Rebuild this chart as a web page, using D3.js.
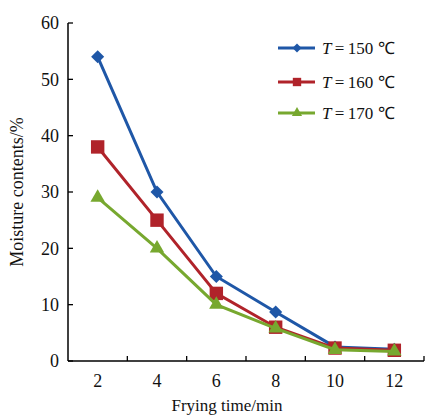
<!DOCTYPE html>
<html>
<head>
<meta charset="utf-8">
<script src="https://cdn.jsdelivr.net/npm/d3@7"></script>
<style>
  html, body { margin: 0; padding: 0; background: #fff; }
  svg { display: block; }
  text { font-family: "Liberation Serif", "Times New Roman", serif; fill: #111; }
</style>
</head>
<body>
<svg id="chart" width="425" height="419"></svg>
<script>
// Frying time (min) on the x axis
const times = ["2", "4", "6", "8", "10", "12"];
// Moisture content (%) for each frying temperature
const moisture150 = [54, 30, 15, 8.7, 2.5, 2.1];
const moisture160 = [38, 25, 12, 6, 2.3, 1.9];
const moisture170 = [29, 20, 10, 5.8, 2.0, 1.7];
const seriesNames = ["150", "160", "170"];
const yTicks = [0, 10, 20, 30, 40, 50, 60];

const series = [
  { name: seriesNames[0], values: moisture150, color: "#1f57a7", symbol: d3.symbolSquare, rotate: 45, size: 85, legendSize: 40 },
  { name: seriesNames[1], values: moisture160, color: "#b0232a", symbol: d3.symbolSquare, rotate: 0, size: 180, legendSize: 70 },
  { name: seriesNames[2], values: moisture170, color: "#77a82f", symbol: d3.symbolTriangle, rotate: 0, size: 90, legendSize: 45 }
];

const svg = d3.select("#chart");
const margin = { left: 68, right: 424, top: 23, bottom: 361 };

const x = d3.scaleBand().domain(times).range([margin.left, margin.right]);
const y = d3.scaleLinear().domain([0, 60]).range([margin.bottom, margin.top]);

// Axes with inward ticks
const xAxis = svg.append("g").attr("transform", `translate(0,${margin.bottom})`);
xAxis.append("line")
  .attr("x1", margin.left).attr("x2", margin.right)
  .attr("stroke", "#000").attr("stroke-width", 1.5);
const bounds = times.map(t => x(t)).concat([margin.right]).slice(1);
xAxis.selectAll(".xt").data(bounds).enter().append("line")
  .attr("x1", d => d).attr("x2", d => d)
  .attr("y1", 0).attr("y2", -5)
  .attr("stroke", "#000").attr("stroke-width", 1.3);
xAxis.selectAll(".xl").data(times).enter().append("text")
  .attr("x", d => x(d) + x.bandwidth() / 2)
  .attr("y", 26)
  .attr("text-anchor", "middle")
  .attr("font-size", 18)
  .text(d => d);

const yAxis = svg.append("g").attr("transform", `translate(${margin.left},0)`);
yAxis.append("line")
  .attr("y1", y(0)).attr("y2", y(60))
  .attr("stroke", "#000").attr("stroke-width", 1.5);
yAxis.selectAll(".yt").data(yTicks).enter().append("line")
  .attr("x1", 0).attr("x2", 5)
  .attr("y1", d => y(d)).attr("y2", d => y(d))
  .attr("stroke", "#000").attr("stroke-width", 1.3);
yAxis.selectAll(".yl").data(yTicks).enter().append("text")
  .attr("x", -9)
  .attr("y", d => y(d))
  .attr("dy", "0.35em")
  .attr("text-anchor", "end")
  .attr("font-size", 18)
  .text(d => d);

// Axis titles
svg.append("text")
  .attr("x", 227).attr("y", 411)
  .attr("text-anchor", "middle")
  .attr("font-size", 17)
  .text("Frying time/min");
svg.append("text")
  .attr("transform", "translate(23,192) rotate(-90)")
  .attr("text-anchor", "middle")
  .attr("font-size", 18)
  .text("Moisture contents/%");

// Lines and markers, drawn 150 first so 170 sits on top
const cx = (i) => x(times[i]) + x.bandwidth() / 2;
const line = d3.line().x((d, i) => cx(i)).y(d => y(d));

series.forEach(s => {
  const g = svg.append("g");
  g.append("path")
    .attr("d", line(s.values))
    .attr("fill", "none")
    .attr("stroke", s.color)
    .attr("stroke-width", 3);
  g.selectAll("path.m").data(s.values).enter().append("path")
    .attr("class", "m")
    .attr("transform", (d, i) => `translate(${cx(i)},${y(d)}) rotate(${s.rotate})`)
    .attr("d", d3.symbol().type(s.symbol).size(s.size))
    .attr("fill", s.color);
});

// Legend
const legend = svg.append("g");
const legendRows = [48, 82, 113];
series.forEach((s, i) => {
  const row = legend.append("g").attr("transform", `translate(0,${legendRows[i]})`);
  row.append("line")
    .attr("x1", 278).attr("x2", 315)
    .attr("stroke", s.color).attr("stroke-width", 3);
  row.append("path")
    .attr("transform", `translate(297,0) rotate(${s.rotate})`)
    .attr("d", d3.symbol().type(s.symbol).size(s.legendSize))
    .attr("fill", s.color);
  const t = row.append("text")
    .attr("x", 322).attr("y", 0).attr("dy", "0.35em")
    .attr("font-size", 17);
  t.append("tspan").attr("font-style", "italic").text("T");
  t.append("tspan").text(`\u2009=\u2009${s.name} ℃`);
});
</script>
</body>
</html>
